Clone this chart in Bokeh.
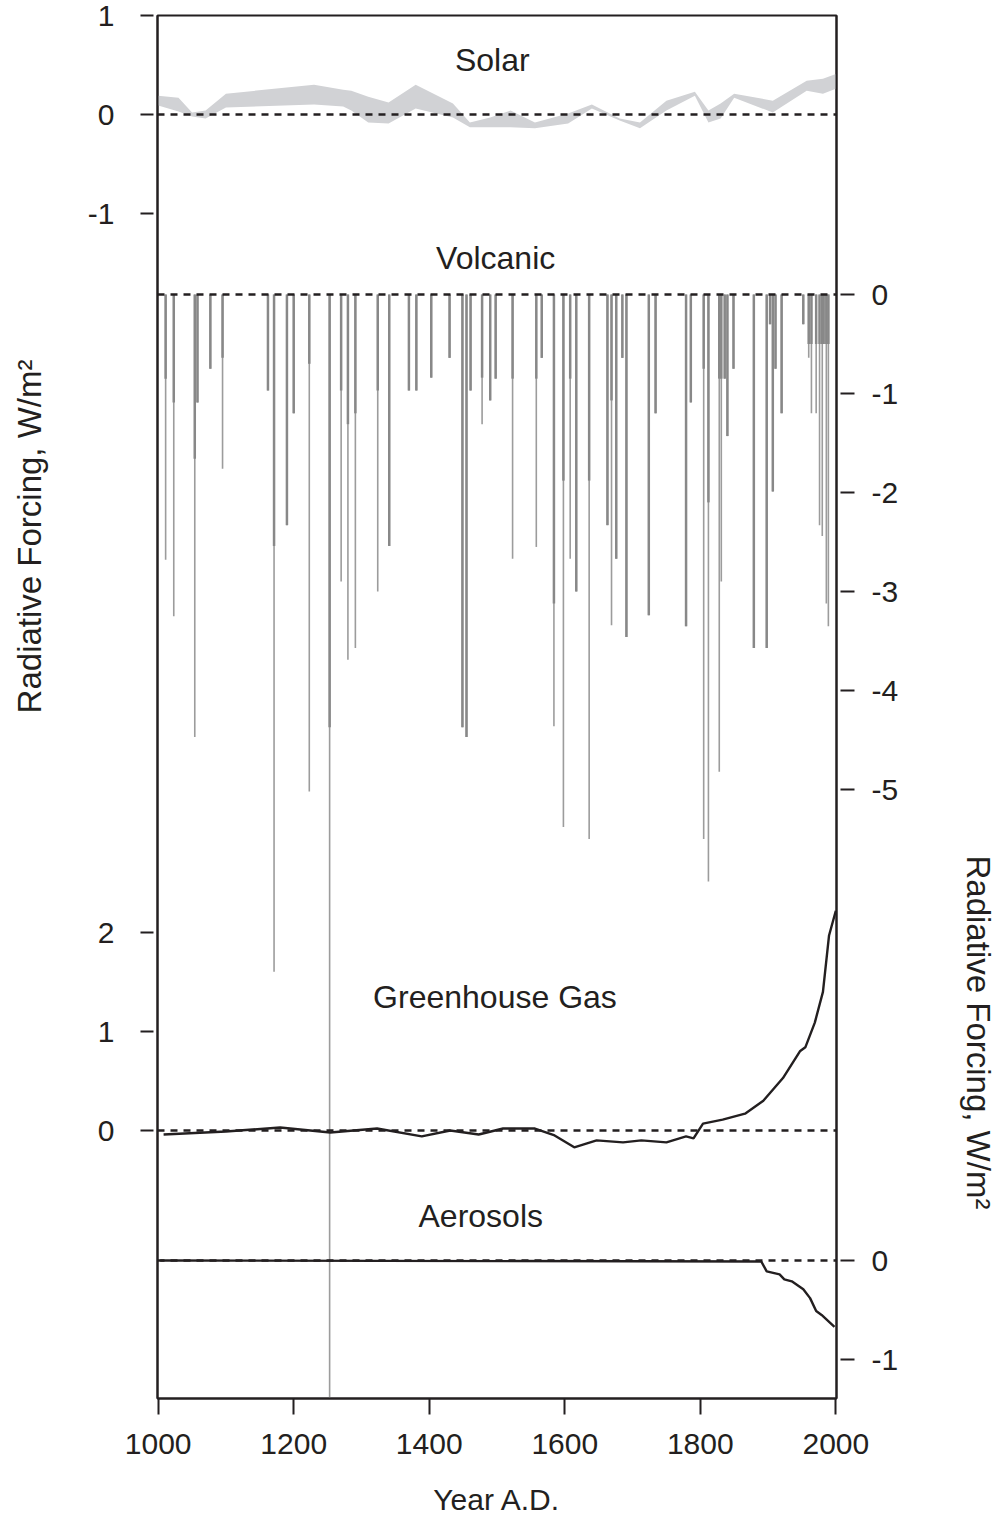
import math
from bokeh.plotting import figure
from bokeh.models import Range1d, LinearAxis, FixedTicker, Span, Label, Title
from bokeh.embed import file_html
from bokeh.resources import INLINE

# ---------------- data (W/m2) ----------------
year_ticks = [1000, 1200, 1400, 1600, 1800, 2000]

solar_year = [1000, 1030, 1050, 1070, 1100, 1230, 1273, 1285, 1310, 1340, 1380, 1435, 1460, 1490,
              1520, 1556, 1605, 1640, 1681, 1711, 1750, 1792, 1812, 1830, 1850, 1907, 1957, 1981, 2000]
solar_hi = [0.19, 0.17, 0.02, 0.04, 0.21, 0.30, 0.25, 0.24, 0.18, 0.12, 0.30, 0.11, -0.08, -0.03,
            0.04, -0.08, 0.01, 0.10, -0.04, -0.08, 0.14, 0.23, 0.04, 0.11, 0.21, 0.14, 0.34, 0.36, 0.41]
solar_lo = [0.09, 0.03, -0.02, -0.04, 0.07, 0.10, 0.08, 0.04, -0.08, -0.09, 0.06, -0.03, -0.13, -0.13,
            -0.13, -0.14, -0.09, 0.06, -0.06, -0.14, 0.04, 0.19, -0.08, -0.04, 0.17, 0.02, 0.24, 0.21, 0.26]

volc_year = [1011, 1023, 1054, 1058, 1077, 1095, 1162, 1171, 1190, 1200, 1223, 1253, 1270, 1280,
             1291, 1324, 1341, 1370, 1381, 1403, 1430, 1449, 1455, 1461, 1478, 1490, 1498, 1523,
             1558, 1566, 1584, 1598, 1608, 1617, 1636, 1663, 1669, 1676, 1685, 1691, 1724, 1734,
             1779, 1786, 1805, 1812, 1828, 1831, 1836, 1840, 1849, 1879, 1898, 1903, 1907, 1911,
             1920, 1952, 1960, 1964, 1971, 1976, 1980, 1982, 1986, 1989]
volc_peak = [-2.68, -3.25, -4.47, -1.09, -0.75, -1.76, -0.97, -6.84, -2.33, -1.20, -5.02, -12.4, -2.90, -3.69,
             -3.57, -3.00, -2.54, -0.97, -0.97, -0.84, -0.64, -4.37, -4.47, -0.97, -1.31, -1.07, -0.85, -2.67,
             -2.55, -0.64, -4.36, -5.38, -2.67, -3.00, -5.50, -2.33, -3.34, -2.67, -0.64, -3.46, -3.24, -1.20,
             -3.35, -1.09, -5.50, -5.93, -4.82, -2.90, -0.85, -1.43, -0.75, -3.57, -3.57, -0.30, -1.99, -0.75,
             -1.20, -0.30, -0.64, -1.20, -1.20, -2.33, -2.44, -0.50, -3.12, -3.35]
# darker, wider upper part of each spike (0 = none)
volc_core = [-0.85, -1.09, -1.66, -1.09, -0.75, -0.64, -0.97, -2.54, -2.33, -1.20, -0.70, -4.37, -0.97, -1.31,
             -1.20, -0.97, -2.54, -0.97, -0.97, -0.84, -0.64, -4.37, -4.47, -0.97, -0.84, -1.07, -0.85, -0.85,
             -0.85, -0.64, -3.12, -1.88, -0.85, -3.00, -1.88, -2.33, -1.07, -2.67, -0.64, -3.46, -3.24, -1.20,
             -3.35, -1.09, -0.75, -2.10, -0.85, -0.85, -0.85, -1.43, -0.75, -3.57, -3.57, -0.30, -1.99, -0.75,
             -1.20, -0.30, -0.50, -0.50, -0.50, -0.50, -0.50, -0.50, -0.50, -0.50]

ghg_year = [1008, 1100, 1180, 1254, 1323, 1389, 1431, 1473, 1509, 1556, 1585, 1614, 1647, 1686, 1713,
            1750, 1779, 1790, 1804, 1833, 1866, 1893, 1922, 1947, 1955, 1969, 1981, 1990, 2000]
ghg_val = [-0.04, -0.01, 0.03, -0.02, 0.02, -0.06, 0.00, -0.04, 0.02, 0.02, -0.05, -0.17, -0.10, -0.12, -0.10,
           -0.12, -0.06, -0.08, 0.07, 0.11, 0.17, 0.30, 0.53, 0.80, 0.84, 1.09, 1.40, 1.97, 2.22]

aer_year = [1003, 1890, 1898, 1917, 1924, 1935, 1952, 1962, 1971, 1979, 1998]
aer_val = [0.00, -0.01, -0.11, -0.14, -0.19, -0.21, -0.29, -0.38, -0.51, -0.55, -0.67]

solar_ticks = [1, 0, -1]
ghg_ticks = [2, 1, 0]
volc_ticks = [0, -1, -2, -3, -4, -5]
aer_ticks = [0, -1]

# ---------------- layout ----------------
INK = "#231f20"
FONT = "Liberation Sans"
PX = 99                      # pixels per W/m2 (same scale in every panel)
FRAME_W, FRAME_H = 680, 1383
ZERO = {"solar": 1284, "volc": 1104, "ghg": 268, "aer": 138}   # zero line, px above frame bottom

p = figure(width=998, height=1518, x_range=Range1d(999, 2001), y_range=Range1d(0, FRAME_H),
           output_backend="svg", toolbar_location=None,
           min_border_left=157, min_border_right=161, min_border_top=15, min_border_bottom=120)
p.extra_y_ranges = {k: Range1d(-z / PX, (FRAME_H - z) / PX) for k, z in ZERO.items()}
p.grid.visible = False
p.outline_line_color = INK
p.outline_line_width = 2
p.background_fill_color = "white"
p.border_fill_color = "white"

# bottom axis
xa = p.xaxis[0]
xa.ticker = FixedTicker(ticks=year_ticks)
xa.major_tick_out = 16
xa.major_tick_in = 0
xa.major_tick_line_width = 2
xa.major_tick_line_color = INK
xa.minor_tick_line_color = None
xa.axis_line_color = INK
xa.axis_line_width = 2
xa.major_label_standoff = 19
xa.major_label_text_font = FONT
xa.major_label_text_font_size = "30px"
xa.major_label_text_color = INK
xa.axis_label = "Year A.D."
xa.axis_label_standoff = 26
xa.axis_label_text_font = FONT
xa.axis_label_text_font_size = "30px"
xa.axis_label_text_font_style = "normal"
xa.axis_label_text_color = INK

# left axis (solar + greenhouse gas)
left_ticks = [ZERO["solar"] + v * PX for v in solar_ticks] + [ZERO["ghg"] + v * PX for v in ghg_ticks]
left_labels = [str(v) for v in solar_ticks] + [str(v) for v in ghg_ticks]
ya = p.yaxis[0]
ya.ticker = FixedTicker(ticks=left_ticks)
ya.major_label_overrides = {t: s for t, s in zip(left_ticks, left_labels)}

# right axis (volcanic + aerosols)
right_ticks = [ZERO["volc"] + v * PX for v in volc_ticks] + [ZERO["aer"] + v * PX for v in aer_ticks]
right_labels = [str(v) for v in volc_ticks] + [str(v) for v in aer_ticks]
ra = LinearAxis(ticker=FixedTicker(ticks=right_ticks),
                major_label_overrides={t: s for t, s in zip(right_ticks, right_labels)})
p.add_layout(ra, "right")

for ax, tout, so in ((ya, 17, 26), (ra, 18, 17)):
    ax.major_tick_out = tout
    ax.major_tick_in = -4
    ax.major_tick_line_width = 2
    ax.major_tick_line_color = INK
    ax.minor_tick_line_color = None
    ax.axis_line_color = INK
    ax.axis_line_width = 2
    ax.major_label_standoff = so
    ax.major_label_text_font = FONT
    ax.major_label_text_font_size = "30px"
    ax.major_label_text_color = INK

# axis titles: an invisible spacer axis (one hidden tick), then a Title offset along the side
TITLE = "Radiative Forcing, W/m²"
MID = FRAME_H // 2
for side, gap, align, offset in (("left", 37, "right", 344), ("right", 58, "left", 840)):
    spacer = LinearAxis(ticker=FixedTicker(ticks=[MID]), major_label_overrides={MID: ""},
                        axis_line_color=None, major_tick_line_color=None, minor_tick_line_color=None,
                        major_tick_out=gap, major_tick_in=0, major_label_standoff=0,
                        major_label_text_font_size="1px")
    p.add_layout(spacer, side)
    p.add_layout(Title(text=TITLE, align=align, offset=offset, standoff=0,
                       text_font=FONT, text_font_size="33px", text_font_style="normal",
                       text_color=INK), side)

# ---------------- marks ----------------
p.varea(x=solar_year, y1=solar_lo, y2=solar_hi, fill_color="#d1d2d5", y_range_name="solar")

n = len(volc_year)
p.segment(x0=volc_year, y0=[0] * n, x1=volc_year, y1=volc_peak,
          line_color="#9c9c9c", line_width=1.6, y_range_name="volc")
core_idx = [i for i in range(n) if volc_core[i] < 0]
p.segment(x0=[volc_year[i] for i in core_idx], y0=[0] * len(core_idx),
          x1=[volc_year[i] for i in core_idx], y1=[volc_core[i] for i in core_idx],
          line_color="#888888", line_width=2.5, y_range_name="volc")

p.line(ghg_year, ghg_val, line_color=INK, line_width=2.4, y_range_name="ghg")
p.line(aer_year, aer_val, line_color=INK, line_width=2.4, y_range_name="aer")

for k in ZERO:
    p.add_layout(Span(location=0, dimension="width", y_range_name=k,
                      line_color=INK, line_width=2.4, line_dash="7 6"))

# ---------------- panel names ----------------
def lab(x, y, text, rng, size="32px", **kw):
    p.add_layout(Label(x=x, y=y, text=text, y_range_name=rng, text_font=FONT,
                       text_font_size=size, text_color=INK, **kw))

lab(1493, 0.55, "Solar", "solar", text_align="center", text_baseline="middle")
lab(1498, 0.37, "Volcanic", "volc", text_align="center", text_baseline="middle")
lab(1497, 1.35, "Greenhouse Gas", "ghg", text_align="center", text_baseline="middle")
lab(1476, 0.45, "Aerosols", "aer", text_align="center", text_baseline="middle")

open("out.html", "w").write(file_html(p, INLINE))
